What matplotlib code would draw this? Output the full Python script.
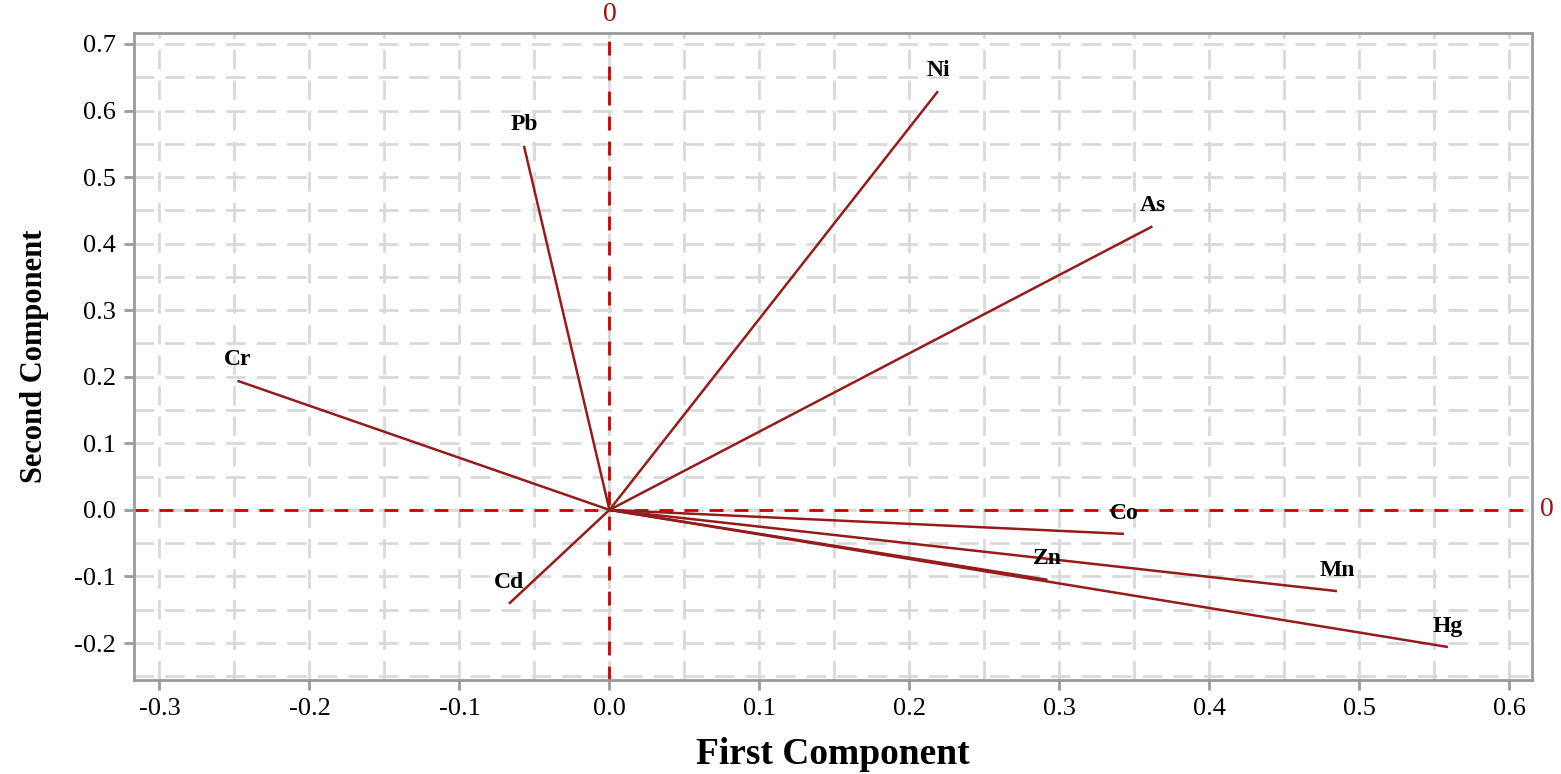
import matplotlib
matplotlib.use("Agg")
import matplotlib.pyplot as plt
import numpy as np

elements = ["Ni", "Pb", "As", "Cr", "Co", "Zn", "Mn", "Hg", "Cd"]
pc1 = [0.219, -0.057, 0.362, -0.248, 0.343, 0.292, 0.485, 0.559, -0.067]
pc2 = [0.629, 0.547, 0.426, 0.194, -0.036, -0.105, -0.122, -0.206, -0.141]

xticks = [-0.3, -0.2, -0.1, 0.0, 0.1, 0.2, 0.3, 0.4, 0.5, 0.6]
yticks = [-0.2, -0.1, 0.0, 0.1, 0.2, 0.3, 0.4, 0.5, 0.6, 0.7]

serif = ["Liberation Serif", "DejaVu Serif"]
vec_color = "#961b1b"
zero_color = "#cc0000"
grid_color = "#d9d9d9"
spine_color = "#9a9a9a"

fig = plt.figure(figsize=(15.61, 7.74), dpi=100)
ax = fig.add_axes([0.0858, 0.1214, 0.8956, 0.836])
ax.set_xlim(-0.317, 0.615)
ax.set_ylim(-0.2556, 0.7165)

# grid every 0.05
for gx in np.arange(-0.30, 0.6001, 0.05):
    ax.axvline(gx, color=grid_color, lw=2, ls=(0, (7, 4)), zorder=0)
for gy in np.arange(-0.25, 0.7001, 0.05):
    ax.axhline(gy, color=grid_color, lw=2, ls=(0, (7, 4)), zorder=0)

# zero lines
ax.axvline(0, color=zero_color, lw=2, ls=(0, (5, 4)), zorder=1)
ax.axhline(0, color=zero_color, lw=2, ls=(0, (5, 4)), zorder=1)

for name, x, y in zip(elements, pc1, pc2):
    ax.plot([0, x], [0, y], color=vec_color, lw=1.8, zorder=3, solid_capstyle="butt")
    ax.annotate(name, (x, y), xytext=(0, 15), textcoords="offset points",
                ha="center", va="center", fontsize=17, fontweight="bold",
                family=serif, color="black", zorder=4)

ax.text(0, 1.01, "0", transform=ax.get_xaxis_transform(), ha="center", va="bottom",
        color="#a01010", fontsize=20, family=serif)
ax.text(1.006, 0, "0", transform=ax.get_yaxis_transform(), ha="left", va="center",
        color="#a01010", fontsize=20, family=serif)

ax.set_xticks(xticks)
ax.set_yticks(yticks)
ax.set_xticklabels([f"{v:.1f}" for v in xticks], family=serif, fontsize=19)
ax.set_yticklabels([f"{v:.1f}" for v in yticks], family=serif, fontsize=19)
ax.tick_params(axis="both", direction="out", length=7, width=2, color=spine_color, pad=6)
for s in ax.spines.values():
    s.set_color(spine_color)
    s.set_linewidth(2)

ax.set_xlabel("First Component", family=serif, fontsize=27, fontweight="bold", labelpad=12)
ax.set_ylabel("Second Component", family=serif, fontsize=22, fontweight="bold", labelpad=18)

fig.savefig("out.png", dpi=100)
